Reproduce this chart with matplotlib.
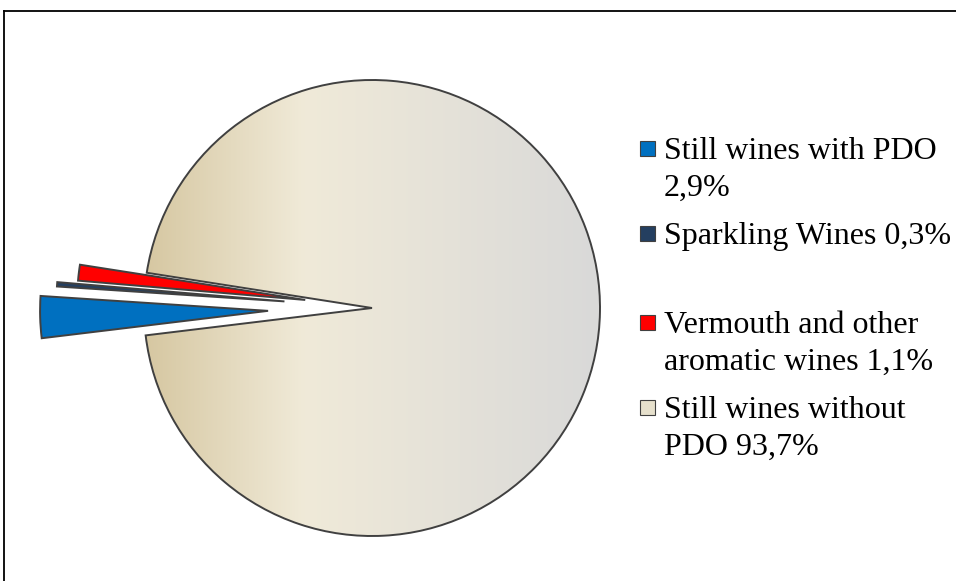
import matplotlib.pyplot as plt
import numpy as np
from matplotlib.colors import LinearSegmentedColormap
from matplotlib.patches import Rectangle

categories = ["Still wines with PDO\n2,9%", "Sparkling Wines 0,3%",
              "Vermouth and other\naromatic wines 1,1%", "Still wines without\nPDO 93,7%"]
shares = [2.9, 0.3, 1.1, 93.7]
colors = ["#0070c0", "#243f60", "#ff0000", "#ece6d3"]
explode = [0.456, 0.385, 0.295, 0.0]

W, H = 956, 581
fig = plt.figure(figsize=(W / 100, H / 100), dpi=100)
ax = fig.add_axes([0, 0, 1, 1])

cx, cy, r = 372, H - 308, 228
# pie offsets are absolute, so scale the explode fractions by the radius
wedges, _ = ax.pie(
    shares,
    colors=colors,
    explode=[e * r for e in explode],
    startangle=186.9,
    counterclock=False,
    center=(cx, cy),
    radius=r,
    frame=True,
    wedgeprops={"edgecolor": "#404040", "linewidth": 1.4},
)
ax.set_xlim(0, W)
ax.set_ylim(0, H)
ax.set_aspect("equal")
ax.axis("off")

# horizontal gradient on the big slice
main = wedges[3]
grad = LinearSegmentedColormap.from_list(
    "beige", [(0, "#d6c7a1"), (0.35, "#f0ead8"), (1, "#d9d9d9")]
)
img = ax.imshow(
    np.linspace(0, 1, 256)[None, :],
    cmap=grad,
    extent=[cx - r, cx + r, cy - r, cy + r],
    aspect="auto",
    zorder=1,
)
img.set_clip_path(main)
main.set_facecolor("none")
main.set_zorder(2)

# chart frame
ax.plot([4, W], [H - 11, H - 11], color="black", lw=1.3, clip_on=False)
ax.plot([4, 4], [H - 11, 0], color="black", lw=1.3, clip_on=False)

# legend
tops = [137, 222, 311, 396]
for label, col, top in zip(categories, colors, tops):
    fc = col if col != "#ece6d3" else "#e6e0cc"
    ax.add_patch(Rectangle((640, H - top - 19), 15, 15, facecolor=fc,
                           edgecolor="#404040", lw=0.8))
    ax.text(664, H - top, label, fontsize=23, family="Liberation Serif",
            va="top", ha="left", linespacing=1.36)

fig.savefig("out.png", dpi=100)
